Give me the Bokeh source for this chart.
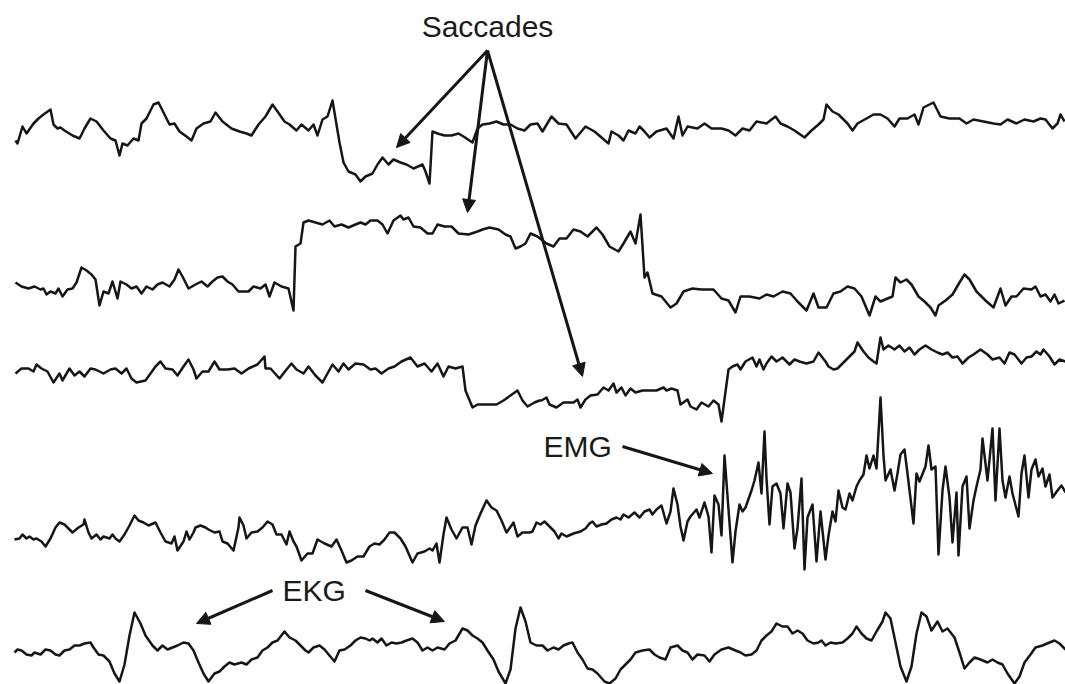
from bokeh.plotting import figure
from bokeh.models import Range1d, Arrow, NormalHead, Label, ColumnDataSource
from bokeh.embed import file_html
from bokeh.resources import INLINE

# ---- data: five recording channels (time, signal) ----
trace1 = [(15,140),(17,143),(22,126),(26,133),(33,123),(38,118),(43,114),(50,109),(53,124),(57,128),(60,127),(64,130),(72,135),(79,138),(84,128),(90,118),(96,121),(103,130),(110,138),(115,140),(119,155),(122,143),(127,145),(133,138),(138,140),(141,123),(146,118),(153,104),(158,102),(164,114),(169,124),(174,123),(179,131),(186,136),(191,140),(196,128),(203,123),(210,121),(215,112),(222,121),(231,128),(239,131),(246,133),(251,135),(258,124),(265,116),(272,104),(277,111),(284,121),(289,124),(296,130),(301,124),(308,130),(313,124),(317,135),(322,119),(327,116),(332,100),(336,124),(339,142),(343,162),(348,171),(355,174),(360,181),(365,176),(372,173),(377,164),(382,157),(388,164),(393,159),(400,162),(406,164),(413,168),(422,164),(425,171),(429,183),(432,131),(437,133),(444,135),(451,135),(458,133),(463,136),(472,142),(477,128),(482,124),(489,123),(496,121),(503,124),(510,124),(517,128),(524,130),(530,124),(537,123),
          (542,131),(551,116),(558,123),(566,124),(575,138),(585,126),(594,131),(601,137),(608,143),(611,131),(618,135),(623,140),(628,130),(635,133),(639,126),(644,131),(649,137),(656,131),(666,128),(673,138),(678,116),(682,135),(687,126),(697,128),(704,123),(711,128),(721,128),(728,130),(735,135),(742,128),(749,130),(756,121),(766,123),(775,116),(780,123),(787,126),(794,130),(804,137),(811,130),(818,124),(823,119),(826,104),(832,111),(838,114),(847,123),(852,130),(857,123),(866,118),(873,114),(880,114),(887,118),(894,126),(899,118),(907,118),(914,114),(918,124),(923,107),(933,102),(940,116),(949,118),(959,118),(966,123),(973,119),(983,121),(993,123),(1000,124),(1007,119),(1016,123),(1024,119),(1033,121),(1040,118),(1045,119),(1052,128),(1057,123),(1060,114),(1064,121)]

trace2 = [(15,282),(21,286),(28,288),(34,286),(40,289),(43,288),(46,294),(50,291),(55,293),(58,288),(62,296),(67,289),(72,288),(76,282),(81,267),(86,270),(91,274),(95,279),(99,305),(103,291),(108,293),(112,281),(117,298),(120,281),(126,284),(131,288),(136,286),(141,293),(146,286),(152,289),(157,284),(162,282),(169,286),(174,279),(178,269),(182,276),(188,288),(195,284),(201,281),(207,286),(212,281),(217,277),(222,276),(227,281),(232,284),(238,291),(248,291),(253,286),(260,288),(265,284),(269,296),(274,282),(281,286),(288,288),(293,310),(295,246),(300,243),(303,222),(308,220),(315,222),(322,224),(329,220),(334,226),(341,224),(348,227),(355,224),(360,222),(365,224),(370,220),(377,220),(382,224),(387,233),(393,220),(400,215),(403,219),(408,217),(413,226),(420,227),(427,233),(432,233),(437,224),(444,226),(451,226),(458,233),(468,234),(477,231),(482,229),(489,227),(498,229),(505,234),(510,236),(515,248),(520,246),(525,243),(530,233),(537,236),
          (546,243),(553,246),(559,238),(566,238),(573,229),(580,231),(587,236),(596,227),(602,234),(609,246),(618,251),(623,243),(630,231),(635,243),(640,214),(644,277),(647,272),(652,293),(661,296),(670,307),(676,303),(683,291),(692,288),(701,289),(713,289),(721,298),(728,300),(735,312),(740,296),(749,296),(759,298),(766,294),(773,296),(782,291),(790,293),(797,301),(806,310),(813,293),(818,307),(826,307),(833,293),(840,291),(847,286),(854,288),(861,296),(869,315),(875,296),(880,301),(887,298),(892,296),(895,277),(900,282),(906,279),(911,284),(918,296),(924,301),(930,307),(935,315),(938,305),(945,300),(952,294),(959,282),(964,274),(969,279),(976,291),(985,300),(993,307),(1000,288),(1005,305),(1011,296),(1016,296),(1023,288),(1031,289),(1035,286),(1040,296),(1045,294),(1050,301),(1054,294),(1058,303),(1064,300)]

trace3 = [(15,373),(21,368),(28,368),(33,371),(36,364),(41,368),(47,371),(53,382),(59,373),(62,380),(69,368),(74,375),(79,371),(84,376),(90,368),(95,369),(103,373),(110,369),(115,368),(121,373),(126,368),(131,378),(136,382),(145,380),(150,373),(155,366),(160,361),(165,368),(172,369),(177,375),(183,366),(188,359),(193,369),(196,378),(202,371),(208,371),(214,361),(219,369),(227,369),(234,368),(241,373),(248,368),(257,364),(264,356),(265,368),(270,368),(279,378),(286,369),(291,363),(296,369),(303,373),(308,366),(315,375),(322,382),(327,373),(332,364),(338,371),(343,363),(348,369),(355,363),(363,364),(370,369),(375,368),(381,373),(388,368),(394,366),(401,361),(410,357),(417,366),(424,363),(431,371),(437,363),(443,376),(448,366),(455,368),(462,366),(465,390),(472,407),(477,404),(486,404),(496,404),(503,400),(510,395),(517,390),(522,400),(527,406),(534,402),(539,400),
          (541,400),(546,397),(549,404),(556,407),(563,402),(573,402),(577,399),(580,407),(585,399),(590,395),(597,394),(603,387),(608,390),(613,383),(616,392),(621,387),(625,395),(630,388),(635,392),(642,390),(649,390),(656,390),(663,387),(666,390),(671,388),(677,390),(680,404),(687,399),(690,406),(696,409),(701,402),(708,406),(713,400),(718,404),(721,421),(728,369),(732,366),(737,364),(740,369),(745,361),(752,357),(756,366),(759,359),(763,369),(766,363),(771,356),(776,361),(782,357),(789,364),(794,359),(799,361),(806,363),(813,361),(818,352),(825,361),(828,366),(833,369),(837,368),(842,363),(849,356),(854,351),(857,342),(863,351),(868,357),(873,361),(876,363),(880,337),(883,349),(888,345),(894,349),(899,345),(904,351),(909,347),(914,354),(919,349),(925,345),(931,349),(937,352),(942,354),(947,352),(952,357),(957,356),(962,363),(968,357),(973,354),(980,349),(987,354),(992,359),(999,357),(1004,363),(1009,352),(1014,354),(1021,363),(1026,357),(1031,356),(1036,351),(1040,354),(1043,349),(1049,356),(1054,364),(1059,359),(1065,361)]

trace4 = [(14,539),(19,538),(22,534),(26,538),(29,536),(33,539),(36,538),(41,541),(45,546),(50,538),(55,527),(59,522),(64,524),(69,529),(72,532),(78,527),(83,524),(84,519),(88,532),(91,538),(96,534),(100,539),(103,536),(109,538),(112,534),(115,538),(119,541),(124,534),(129,525),(134,515),(138,520),(143,522),(148,525),(155,522),(160,532),(165,541),(171,543),(174,536),(177,550),(183,541),(186,531),(189,539),(193,532),(195,527),(200,525),(205,527),(208,529),(214,532),(219,531),(222,541),(227,543),(233,550),(238,527),(239,517),(243,525),(246,538),(251,532),(257,531),(262,527),(267,521),(272,524),(276,534),(281,534),(286,544),(289,531),(293,541),(296,546),(301,560),(307,553),(312,553),(317,539),(324,543),(331,546),(336,539),(341,550),(346,562),(351,560),(357,556),(363,556),(369,546),(374,543),(379,544),(384,539),(389,532),(394,532),(400,538),(405,546),(412,562),(417,553),(424,551),(429,548),(432,550),(436,543),(439,562),(443,534),(446,517),(451,529),(456,538),(462,527),(467,527),(471,544),(475,525),(480,513),(486,500),(491,507),(496,510),(501,520),(506,532),(511,525),(513,522),(517,536),(522,532),(529,532),(532,531),(536,522),(540,524),
          (544,521),(549,526),(554,531),(558,538),(561,533),(566,536),(573,533),(580,531),(585,528),(589,523),(592,521),(596,526),(601,524),(606,523),(611,519),(616,517),(620,519),(623,514),(628,517),(634,512),(639,517),(644,511),(649,509),(652,514),(656,509),(661,505),(666,523),(670,511),(673,488),(677,504),(680,526),(683,540),(687,521),(690,516),(696,509),(699,517),(704,502),(708,516),(711,552),(714,495),(718,504),(721,535),(724,455),(728,509),(732,562),(735,531),(739,504),(742,511),(745,507),(751,490),(754,480),(758,462),(761,493),(764,431),(766,478),(769,524),(772,486),(776,483),(780,493),(783,528),(787,483),(790,492),(794,548),(797,528),(801,478),(804,569),(807,517),(812,504),(816,561),(820,511),(825,559),(828,535),(832,511),(835,521),(838,490),(842,507),(845,509),(849,493),(852,500),(856,486),(859,480),(863,474),(866,455),(869,468),(873,455),(876,468),(880,397),(883,455),(885,480),(890,469),(894,490),(897,473),(900,454),(904,449),(907,473),(913,523),(916,473),(919,481),(925,466),(928,445),(931,469),(935,466),(938,554),(942,490),(945,466),(949,497),(952,542),(956,492),(958,555),(962,486),(966,476),(969,528),(973,500),(976,486),(980,469),(982,438),(987,480),(992,428),(995,500),(999,428),(1002,480),(1005,497),(1009,476),(1012,493),(1018,516),(1021,473),(1024,455),(1028,497),(1031,469),(1035,459),(1038,476),(1042,468),(1045,486),(1049,474),(1052,497),(1057,490),(1061,485),(1065,492)]

trace5 = [(14,652),(17,649),(21,650),(26,654),(31,655),(34,652),(40,654),(45,649),(50,650),(55,654),(59,655),(64,650),(69,649),(74,645),(79,645),(84,643),(90,642),(93,647),(98,654),(103,655),(109,661),(114,673),(119,681),(124,664),(129,635),(134,612),(140,623),(145,635),(152,645),(157,650),(162,645),(167,649),(172,647),(177,645),(183,642),(188,643),(193,650),(198,662),(203,673),(208,681),(214,673),(219,671),(224,666),(229,662),(234,664),(241,662),(246,664),(251,659),(257,657),(262,650),(267,647),(272,642),(277,640),(284,631),(289,637),(295,640),(300,645),(305,650),(308,652),(313,647),(319,645),(324,649),(329,655),(334,661),(339,650),(344,649),(350,645),(355,640),(360,637),(365,638),(369,640),(372,638),(377,642),(381,638),(386,645),(391,642),(396,643),(401,642),(406,640),(412,638),(417,642),(422,650),(427,647),(432,650),(437,647),(444,649),(449,643),(455,640),(462,628),(467,630),(472,635),(477,638),(482,642),(487,650),(493,659),(498,671),(505,683),(510,669),(515,628),(520,607),(525,621),(530,642),(536,645),
          (542,645),(547,650),(553,647),(558,649),(563,645),(568,643),(572,642),(577,652),(582,659),(587,668),(592,669),(597,673),(604,681),(609,683),(615,678),(620,669),(625,664),(630,659),(635,652),(642,650),(649,649),(654,654),(659,657),(665,659),(670,647),(677,645),(682,650),(687,652),(692,659),(697,654),(704,655),(709,661),(714,654),(721,649),(728,647),(735,650),(740,652),(745,655),(751,654),(756,650),(761,640),(766,635),(771,631),(776,623),(782,626),(787,626),(792,633),(797,630),(802,633),(807,640),(813,643),(818,642),(821,640),(825,645),(830,642),(835,643),(842,642),(847,638),(852,633),(856,626),(861,633),(866,638),(871,640),(876,631),(882,621),(885,612),(890,618),(895,642),(900,666),(906,681),(911,666),(916,633),(921,612),(926,616),(931,630),(937,621),(942,631),(947,628),(954,637),(959,652),(964,668),(969,662),(974,657),(980,659),(987,662),(992,659),(997,662),(1002,664),(1007,673),(1014,683),(1019,676),(1024,662),(1030,654),(1035,647),(1042,645),(1049,642),(1054,640),(1059,643),(1065,649)]

# annotations
label_text = ["Saccades", "EMG", "EKG"]
label_x = [487, 543, 282]
label_y = [26, 446, 590]
label_align = ["center", "left", "left"]

arrow_x0 = [487, 487, 487, 622, 272, 365]
arrow_y0 = [50, 50, 50, 446, 590, 590]
arrow_x1 = [396, 467, 582, 712, 196, 444]
arrow_y1 = [147, 212, 376, 473, 623, 621]

INK = "#161616"

p = figure(width=1065, height=684, x_range=Range1d(0, 1065), y_range=Range1d(684, 0),
           output_backend="svg", toolbar_location=None, min_border=0,
           x_axis_location=None, y_axis_location=None)
p.grid.visible = False
p.outline_line_color = None
p.background_fill_color = "white"
p.border_fill_color = "white"

for tr in [trace1, trace2, trace3, trace4, trace5]:
    xs, ys = zip(*tr)
    p.line(list(xs), list(ys), line_color=INK, line_width=2.5, line_join="round")

src = ColumnDataSource(dict(x0=arrow_x0, y0=arrow_y0, x1=arrow_x1, y1=arrow_y1))
p.add_layout(Arrow(end=NormalHead(size=13, fill_color=INK, line_color=INK, line_width=1),
                   x_start="x0", y_start="y0", x_end="x1", y_end="y1",
                   line_color=INK, line_width=3, source=src))

for t, x, y, a in zip(label_text, label_x, label_y, label_align):
    p.add_layout(Label(x=x, y=y, text=t, text_align=a, text_baseline="alphabetic",
                       text_font="Liberation Sans", text_font_size="30px", text_color="#1a1a1a"))

open("out.html", "w").write(file_html(p, INLINE))
